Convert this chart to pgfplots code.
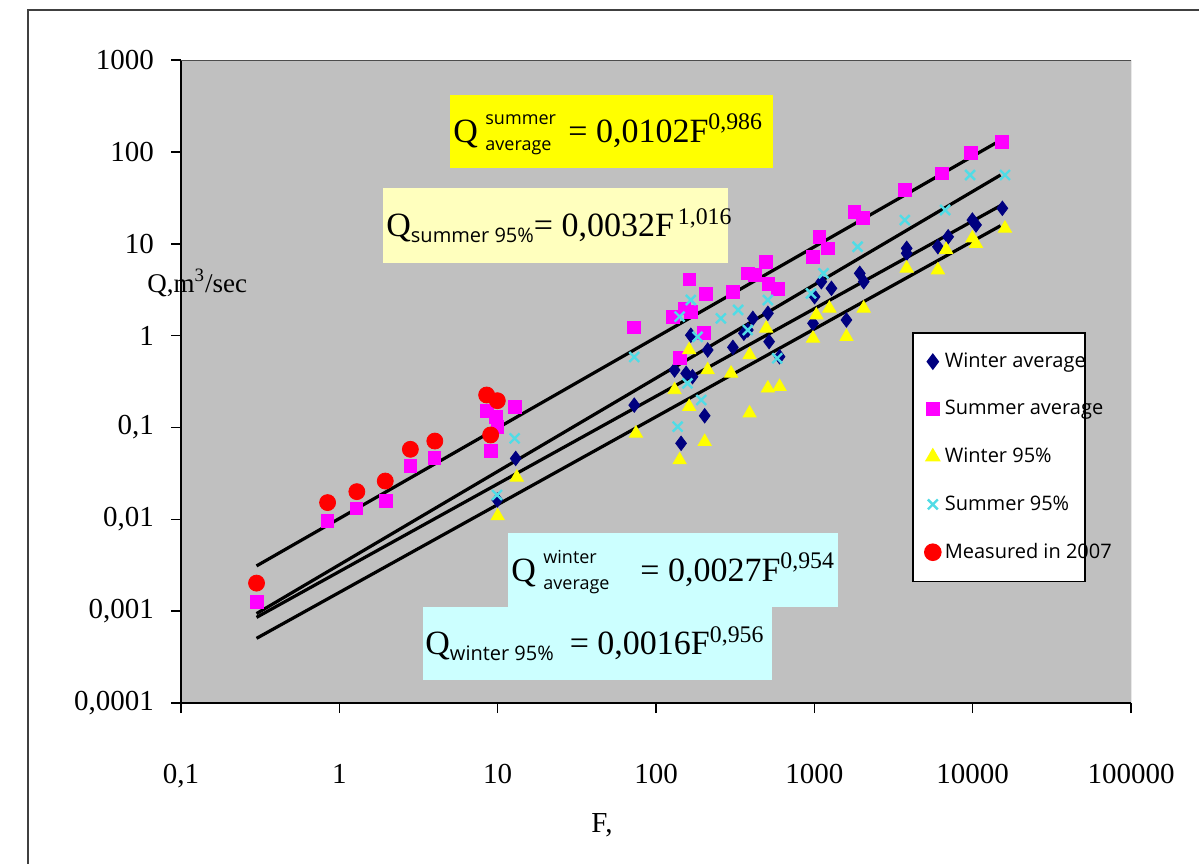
\documentclass[border=0pt]{standalone}
\usepackage{pgfplots}
\pgfplotsset{compat=1.18}
\usepackage{fontspec}
\setmainfont{Liberation Serif}
\newfontfamily\sansf{Open Sans}
\definecolor{bggray}{RGB}{192,192,192}
\definecolor{navy}{RGB}{0,0,128}
\definecolor{mag}{RGB}{255,0,255}
\definecolor{yel}{RGB}{255,255,0}
\definecolor{cy}{RGB}{80,220,230}
\definecolor{paleyel}{RGB}{255,255,190}
\definecolor{palecy}{RGB}{204,255,255}
\begin{document}
\begin{tikzpicture}
\begin{scope}[x=0.5pt,y=-0.5pt]
\useasboundingbox (0,0) rectangle (1199,863);
\fill[white] (0,0) rectangle (1199,863);
\draw[line width=1pt, black!75] (28,880) -- (28,10) -- (1220,10);
\end{scope}
\begin{axis}[at={(90.5pt,-351.5pt)}, anchor=south west,
  scale only axis, width=475pt, height=321.5pt,
  xmode=log, ymode=log, xmin=0.1, xmax=100000, ymin=0.0001, ymax=1000,
  axis background/.style={fill=bggray},
  axis x line*=bottom, axis y line*=left,
  axis line style={line width=1pt, black, -},
  xtick={0.1,1,10,100,1000,10000,100000},
  xticklabels={{0,1},1,10,100,1000,10000,100000},
  ytick={0.0001,0.001,0.01,0.1,1,10,100,1000},
  yticklabels={{0,0001},{0,001},{0,01},{0,1},1,10,100,1000},
  xminorticks=false, yminorticks=false,
  tick align=outside, major tick length=5pt,
  tick style={black, line width=0.8pt},
  ticklabel style={font=\fontsize{14.5}{16}\selectfont},
  xticklabel style={yshift=-22pt},
  yticklabel style={xshift=-5pt},
  legend image code/.code={\draw[mark repeat=2,mark phase=2,#1] plot coordinates {(0cm,0cm) (0.12cm,0cm) (0.24cm,0cm)};},
  legend style={at={(0.7695,0.577)}, anchor=north west, draw=black, line width=0.8pt, fill=white,
    font=\sansf\fontsize{10}{12}\selectfont, row sep=11pt, inner xsep=6pt, inner ysep=8pt},
  legend cell align=left,
]
\draw[gray!60!black, line width=0.5pt] (rel axis cs:0,1) -- (rel axis cs:1,1) -- (rel axis cs:1,0);
% Winter average
\addplot[only marks, mark=diamond*, mark size=3.6pt, color=navy] coordinates {
(13,0.046) (9.95,0.0162) (72.9,0.175) (166,1.01) (131,0.422) (155,0.388) (170,0.357)
(212,0.697) (203,0.134) (144,0.0672) (306,0.745) (409,1.54) (359,1.06) (380,1.15)
(509,1.75) (518,0.859) (603,0.589) (1107,3.86) (1282,3.27) (1004,2.65) (981,1.36)
(1595,1.48) (1936,4.76) (2050,3.86) (3830,8.91) (3830,7.86) (6030,9.28) (7000,11.9)
(9960,18.1) (10500,16) (15400,24.3)};
% Summer average
\addplot[only marks, mark=square*, mark size=3.2pt, color=mag] coordinates {
(0.3,0.00127) (0.84,0.00966) (1.28,0.01316) (1.98,0.0158) (2.81,0.0384) (3.99,0.0469)
(8.52,0.152) (9.7,0.131) (9.95,0.102) (9.03,0.0554) (12.8,0.168) (72.3,1.23)
(162.5,4.10) (207,2.84) (128,1.61) (151,1.98) (166,1.8) (201,1.08) (141,0.566)
(306,3.0) (380,4.76) (420,4.6) (497,6.37) (512,3.64) (592,3.21) (1076,11.9) (1213,8.9)
(981,7.2) (1790,22.1) (2030,19.05) (3730,38.4) (6365,58.4) (9750,97.9) (15270,129)};
% Winter 95%
\addplot[only marks, mark=triangle*, mark size=3.8pt, color=yel] coordinates {
(13.2,0.0286) (10,0.01087) (74.7,0.0863) (141,0.0442) (203,0.070) (390,0.143)
(162,0.697) (131,0.256) (162,0.168) (212,0.422) (298,0.388) (390,0.615) (509,0.267)
(603,0.278) (497,1.20) (1030,1.67) (1245,1.98) (981,0.933) (1595,0.972) (2050,1.98)
(3830,5.4) (6030,5.17) (6800,8.6) (9960,11.5) (10500,10.0) (16000,14.7)};
% Summer 95%
\addplot[only marks, mark=x, mark size=3.5pt, line width=1.2pt, color=cy] coordinates {
(12.8,0.076) (9.9,0.0184) (72.9,0.585) (166,2.44) (141,1.61) (183,0.97) (158,0.302)
(137,0.102) (193,0.199) (257,1.54) (330,1.90) (380,1.15) (509,2.44) (1143,4.76)
(1876,9.28) (953,2.88) (583,0.566) (3730,18.1) (6700,23.3) (9630,56) (16000,56)};
% Measured in 2007
\addplot[only marks, mark=*, mark size=4pt, color=red] coordinates {
(0.3,0.00202) (0.843,0.0152) (1.29,0.0200) (1.95,0.0261) (2.81,0.0578) (4.01,0.0711)
(8.52,0.2256) (9.95,0.1955) (9.03,0.0828)};
% Trend lines
\addplot[black, line width=1.6pt, forget plot] coordinates {(0.3,0.00311) (15000,133.7)};
\addplot[black, line width=1.6pt, forget plot] coordinates {(0.3,0.000941) (15000,56.0)};
\addplot[black, line width=1.6pt, forget plot] coordinates {(0.3,0.000856) (15000,26.0)};
\addplot[black, line width=1.6pt, forget plot] coordinates {(0.3,0.000506) (15000,15.7)};
\legend{\makebox[62pt][l]{Winter average},\makebox[62pt][l]{Summer average},\makebox[62pt][l]{Winter 95\%},\makebox[62pt][l]{Summer 95\%},\makebox[62pt][l]{Measured in 2007}}
\end{axis}
\begin{scope}[x=0.5pt,y=-0.5pt]
\fill[yel] (450,95) rectangle (773,168);
\fill[paleyel] (383,188) rectangle (728,263);
\fill[palecy] (508,533) rectangle (838,607);
\fill[palecy] (423,607) rectangle (772,680);
% equation 1
\node[anchor=base west, inner sep=0, font=\fontsize{17}{19}\selectfont] at (453,142) {Q};
\node[anchor=base west, inner sep=0, font=\sansf\fontsize{9}{10}\selectfont] at (485,124) {summer};
\node[anchor=base west, inner sep=0, font=\sansf\fontsize{9}{10}\selectfont] at (485,150) {average};
\node[anchor=base west, inner sep=0, font=\fontsize{17}{19}\selectfont] at (568,142) {= 0,0102F\textsuperscript{0,986}};
% equation 2
\node[anchor=west, inner sep=0, font=\fontsize{17}{19}\selectfont] at (386,225.5)
  {Q\raisebox{-3pt}{\sansf\fontsize{10}{12}\selectfont summer 95\%}= 0,0032F\textsuperscript{\,1,016}};
% equation 3
\node[anchor=base west, inner sep=0, font=\fontsize{17}{19}\selectfont] at (511,581) {Q};
\node[anchor=base west, inner sep=0, font=\sansf\fontsize{9}{10}\selectfont] at (543,563) {winter};
\node[anchor=base west, inner sep=0, font=\sansf\fontsize{9}{10}\selectfont] at (543,589) {average};
\node[anchor=base west, inner sep=0, font=\fontsize{17}{19}\selectfont] at (640,581) {= 0,0027F\textsuperscript{0,954}};
% equation 4
\node[anchor=west, inner sep=0, font=\fontsize{17}{19}\selectfont] at (425,643.5)
  {Q\raisebox{-3pt}{\sansf\fontsize{10}{12}\selectfont winter 95\%}\hspace{8pt}= 0,0016F\textsuperscript{0,956}};
\node[anchor=west, inner sep=0, font=\fontsize{13.5}{16}\selectfont] at (147,283) {Q,m\textsuperscript{3}/sec};
\node[font=\fontsize{14.5}{16}\selectfont] at (602,825) {F,};
\end{scope}
\end{tikzpicture}
\end{document}
